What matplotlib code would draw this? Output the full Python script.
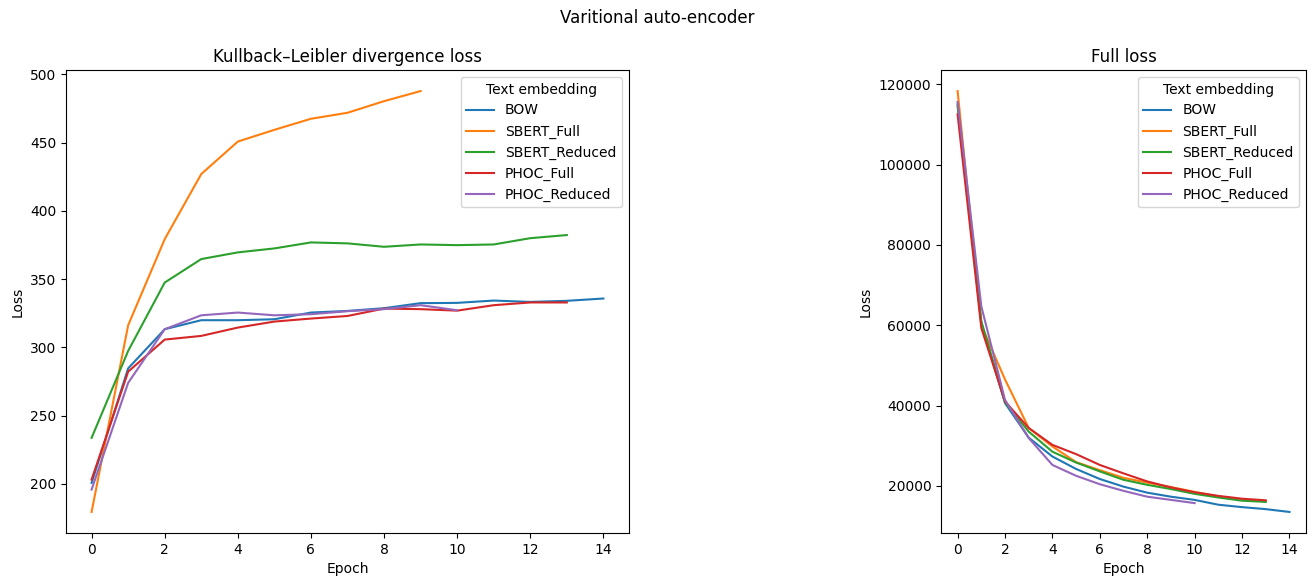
import matplotlib
matplotlib.use("Agg")
import matplotlib.pyplot as plt
import numpy as np

names = ["BOW", "SBERT_Full", "SBERT_Reduced", "PHOC_Full", "PHOC_Reduced"]

# Kullback-Leibler divergence loss per epoch
kl_bow = [200.7, 284.6, 313.3, 319.9, 319.9, 320.6, 325.5, 326.7, 328.7, 332.4, 332.6, 334.3, 333.3, 334.1, 335.8]
kl_sbert_full = [179.4, 316.2, 379.3, 427.0, 450.8, 459.4, 467.5, 471.9, 480.4, 487.8]
kl_sbert_red = [233.7, 297.4, 347.5, 364.7, 369.6, 372.5, 376.9, 376.2, 373.7, 375.4, 374.9, 375.4, 380.0, 382.3]
kl_phoc_full = [203.1, 282.2, 305.7, 308.4, 314.5, 318.9, 321.1, 323.0, 328.4, 328.0, 326.9, 330.9, 332.9, 332.9]
kl_phoc_red = [195.8, 274.0, 313.3, 323.5, 325.5, 323.5, 324.3, 326.5, 328.0, 330.9, 327.2]

# full loss per epoch
full_bow = [115000, 60500, 40600, 32000, 27300, 24200, 21700, 19800, 18300, 17300, 16500, 15300, 14700, 14200, 13500]
full_sbert_full = [118300, 60000, 46500, 34400, 29800, 25900, 23900, 22000, 20800, 19700, 18500, 17400, 16500, 16200]
full_sbert_red = [114500, 61000, 40800, 33500, 28500, 25800, 23600, 21500, 20250, 19200, 18000, 17100, 16300, 16000]
full_phoc_full = [112500, 59300, 41000, 34400, 30200, 27900, 25200, 23100, 21100, 19600, 18400, 17500, 16800, 16400]
full_phoc_red = [115600, 64700, 41400, 31900, 25200, 22500, 20400, 18750, 17300, 16500, 15700]

kl = [kl_bow, kl_sbert_full, kl_sbert_red, kl_phoc_full, kl_phoc_red]
full = [full_bow, full_sbert_full, full_sbert_red, full_phoc_full, full_phoc_red]


def plot_losses(axis, series, title):
	for name, vals in zip(names, series):
		axis.plot(np.arange(len(vals)), vals, label=name)
	axis.set_title(title)
	axis.set_xlabel("Epoch")
	axis.set_ylabel("Loss")
	axis.set_xticks(np.arange(0, 15, 2))
	axis.legend(title="Text embedding", loc="upper right")


fig = plt.figure(figsize=(13.15, 5.85), dpi=100)
ax1 = fig.add_axes([0.0502, 0.0889, 0.4281, 0.7914])
ax2 = fig.add_axes([0.7156, 0.0889, 0.2776, 0.7914])

plot_losses(ax1, kl, "Kullback\u2013Leibler divergence loss")
plot_losses(ax2, full, "Full loss")

fig.suptitle("Varitional auto-encoder", y=0.985)
fig.savefig("out.png", dpi=100)
